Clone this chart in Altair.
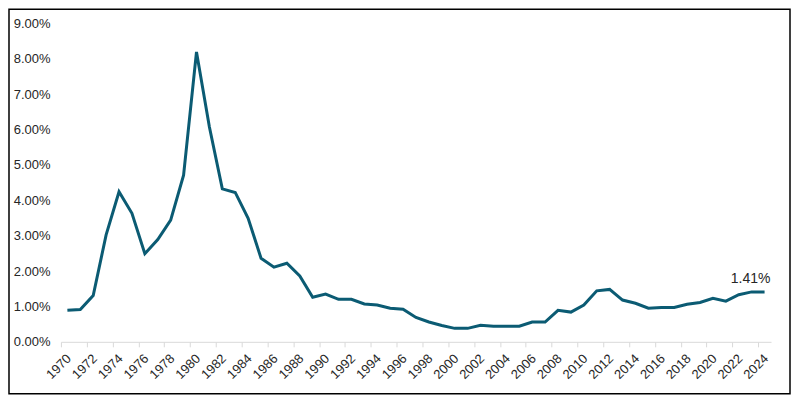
import altair as alt
import pandas as pd

years = list(range(1970, 2025))
rates = [0.89, 0.91, 1.31, 3.02, 4.24, 3.63, 2.49, 2.89, 3.44, 4.71,
         8.19, 6.07, 4.32, 4.22, 3.49, 2.36, 2.11, 2.22, 1.86, 1.26,
         1.35, 1.20, 1.20, 1.07, 1.04, 0.95, 0.92, 0.69, 0.56, 0.46,
         0.38, 0.38, 0.47, 0.44, 0.44, 0.44, 0.56, 0.56, 0.89, 0.84,
         1.04, 1.44, 1.48, 1.18, 1.09, 0.95, 0.97, 0.97, 1.06, 1.11,
         1.23, 1.15, 1.33, 1.41, 1.41]
label_years = list(range(1970, 2025, 2))
y_ticks = [0, 1, 2, 3, 4, 5, 6, 7, 8, 9]

df = pd.DataFrame({"year": years, "rate": rates})
last = df.tail(1).copy()
last["label"] = [f"{r:.2f}%" for r in last["rate"]]

FONT = "Liberation Sans"
LINE_COLOR = "#0b5b73"
TEXT_COLOR = "#262626"
W, H = 711, 319
HALF = W / len(years) / 2  # half a category, for ticks between years

xscale = alt.Scale(domain=[1969.5, 2024.5], nice=False, zero=False)
yscale = alt.Scale(domain=[0, 9], nice=False)
yaxis = alt.Axis(values=y_ticks, labelExpr="format(datum.value, '.2f') + '%'",
                 title=None, grid=False, domain=False, ticks=False,
                 labelOverlap=False,
                 labelFont=FONT, labelFontSize=13, labelColor=TEXT_COLOR,
                 labelPadding=11)
xaxis = alt.Axis(values=label_years, labelAngle=-45, ticks=True, tickSize=5,
                 tickColor="#d9d9d9", tickOffset=-HALF, labelOffset=HALF - 3,
                 title=None, grid=False, domainColor="#d9d9d9",
                 labelFont=FONT, labelFontSize=13, labelColor=TEXT_COLOR,
                 labelPadding=5, labelOverlap=False, labelFlush=False,
                 labelExpr="datum.value", orient="bottom")
X = alt.X("year:Q", scale=xscale, axis=xaxis)
Y = alt.Y("rate:Q", scale=yscale, axis=yaxis)

line = alt.Chart(df).mark_line(color=LINE_COLOR, strokeWidth=3, strokeJoin="miter").encode(
    x=X, y=Y,
)

label = alt.Chart(last).mark_text(
    font=FONT, fontSize=14, color=TEXT_COLOR, dx=-14, dy=-13
).encode(
    x=X, y=Y, text="label:N",
)

border = alt.Chart(alt.Data(values=[{}])).mark_rect(
    fill="transparent", stroke="black", strokeWidth=1.5
).encode(
    x=alt.value(-52), x2=alt.value(W + 19),
    y=alt.value(-14), y2=alt.value(H + 52),
)

chart = alt.layer(line, label, border).properties(
    width=W, height=H,
    autosize=alt.AutoSizeParams(type="none"),
    padding={"left": 53, "top": 15, "right": 21, "bottom": 54},
).configure(background="white").configure_view(
    strokeWidth=0, stroke="transparent"
).configure_axisY(domain=False, grid=False)

chart.save("out.html", embed_options={"renderer": "svg", "actions": False})
